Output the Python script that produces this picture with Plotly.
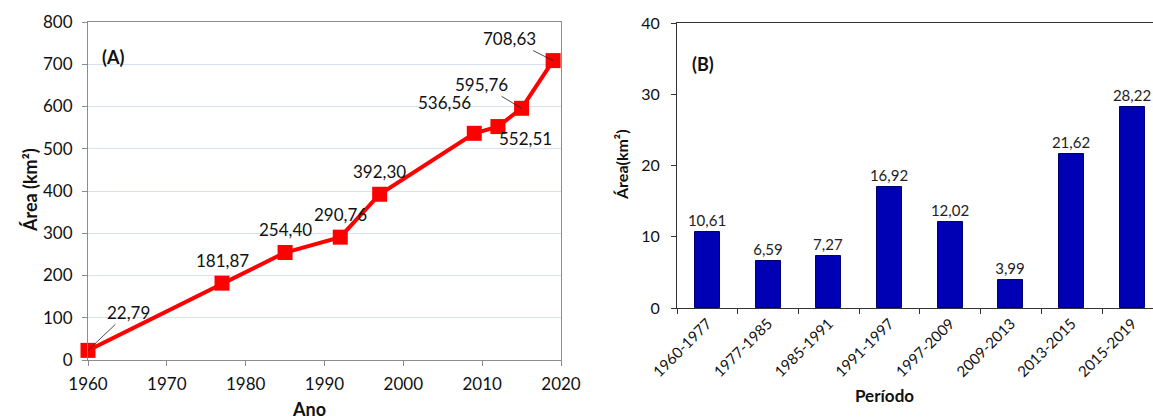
import plotly.graph_objects as go

# ---- data ----
years = [1960, 1977, 1985, 1992, 1997, 2009, 2012, 2015, 2019]
area = [22.79, 181.87, 254.40, 290.76, 392.30, 536.56, 552.51, 595.76, 708.63]

periods = ["1960-1977", "1977-1985", "1985-1991", "1991-1997",
           "1997-2009", "2009-2013", "2013-2015", "2015-2019"]
growth = [10.61, 6.59, 7.27, 16.92, 12.02, 3.99, 21.62, 28.22]

W, H = 1153, 419
FONT = "Lato, 'Open Sans', sans-serif"

def br(v):
    return f"{v:.2f}".replace(".", ",")

fig = go.Figure()

fig.add_trace(go.Scatter(
    x=years, y=area, mode="lines+markers",
    line=dict(color="#ff0000", width=4),
    marker=dict(symbol="square", size=15, color="#ff0000"),
    cliponaxis=False, xaxis="x", yaxis="y", showlegend=False))

fig.add_trace(go.Bar(
    x=periods, y=growth, width=0.41,
    marker=dict(color="#0000b4", line=dict(color="#00006e", width=1)),
    text=[br(v) for v in growth], textposition="outside",
    constraintext="none",
    textfont=dict(size=15, color="#222"), cliponaxis=False,
    xaxis="x2", yaxis="y2", showlegend=False))

# label offsets (pixels): (dx, dy, arrow)
offsets = [(40, -38, True), (0, -23, False), (0, -23, False), (0, -23, False),
           (0, -23, False), (-30, -31, False), (28, 12, True),
           (-40, -24, True), (-44, -22, True)]
ann = []
for x, y, (dx, dy, arr) in zip(years, area, offsets):
    if arr:
        ann.append(dict(x=x, y=y, xref="x", yref="y", text=br(y),
                        showarrow=True, arrowhead=0, arrowwidth=0.8,
                        arrowcolor="#222", ax=dx, ay=dy, standoff=0,
                        font=dict(size=17, color="#111", family=FONT)))
    else:
        ann.append(dict(x=x, y=y, xref="x", yref="y", text=br(y),
                        showarrow=False, xshift=dx, yshift=-dy,
                        font=dict(size=17, color="#111", family=FONT)))

ann += [
    dict(x=100 / W, y=1 - 44 / H, xref="paper", yref="paper", text="<b>(A)</b>",
         showarrow=False, xanchor="left", font=dict(size=18, color="#111", family=FONT)),
    dict(x=690 / W, y=1 - 51 / H, xref="paper", yref="paper", text="<b>(B)</b>",
         showarrow=False, xanchor="left", font=dict(size=18, color="#111", family=FONT)),
    dict(x=17 / W, y=1 - 190 / H, xref="paper", yref="paper", text="<b>Área (km²)</b>",
         textangle=-90, showarrow=False, font=dict(size=18, color="#111", family=FONT)),
    dict(x=290 / W, y=0, xref="paper", yref="paper", text="<b>Ano</b>",
         yanchor="bottom", yshift=-3, showarrow=False,
         font=dict(size=18, color="#111", family=FONT)),
    dict(x=621 / W, y=1 - 165 / H, xref="paper", yref="paper", text="<b>Área(km²)</b>",
         textangle=-90, showarrow=False, font=dict(size=16, color="#111", family=FONT)),
    dict(x=916 / W, y=1 - 408 / H, xref="paper", yref="paper", text="<b>Período</b>",
         showarrow=False, font=dict(size=17, color="#111", family=FONT)),
]

fig.update_layout(
    width=W, height=H, margin=dict(l=0, r=0, t=0, b=0),
    paper_bgcolor="white", plot_bgcolor="white",
    font=dict(family=FONT, color="#111"),
    annotations=ann, bargap=0,
    xaxis=dict(domain=[88 / W, 561 / W], range=[1960, 2020], dtick=10,
               tickfont=dict(size=17), showgrid=False, zeroline=False,
               showline=True, linecolor="#8c8c8c", mirror=True, automargin=False,
               ticks="outside", ticklen=5, tickcolor="#8c8c8c",
               ticklabelstandoff=4),
    yaxis=dict(domain=[1 - 360 / H, 1 - 22 / H], range=[0, 800], dtick=100,
               tickfont=dict(size=17), showgrid=True, gridcolor="#d6e2ef",
               gridwidth=1, zeroline=False, showline=True, linecolor="#8c8c8c",
               mirror=True, ticks="outside", ticklen=5, tickcolor="#8c8c8c",
               automargin=False, ticklabelstandoff=6),
    xaxis2=dict(domain=[677 / W, 1.0], range=[-0.5, 7.34], anchor="y2",
                tickangle=-45, tickfont=dict(size=15), tickson="boundaries",
                ticks="outside", ticklen=5, tickcolor="#333", showgrid=False,
                showline=True, linecolor="#333", mirror=True, zeroline=False,
                automargin=False),
    yaxis2=dict(domain=[1 - 308 / H, 1 - 23 / H], range=[0, 40], dtick=10,
                anchor="x2", tickfont=dict(size=16), showgrid=False,
                showline=True, linecolor="#333", ticks="outside", ticklen=5,
                tickcolor="#333", zeroline=False, automargin=False,
                ticklabelstandoff=8),
)

fig.write_html("out.html")
